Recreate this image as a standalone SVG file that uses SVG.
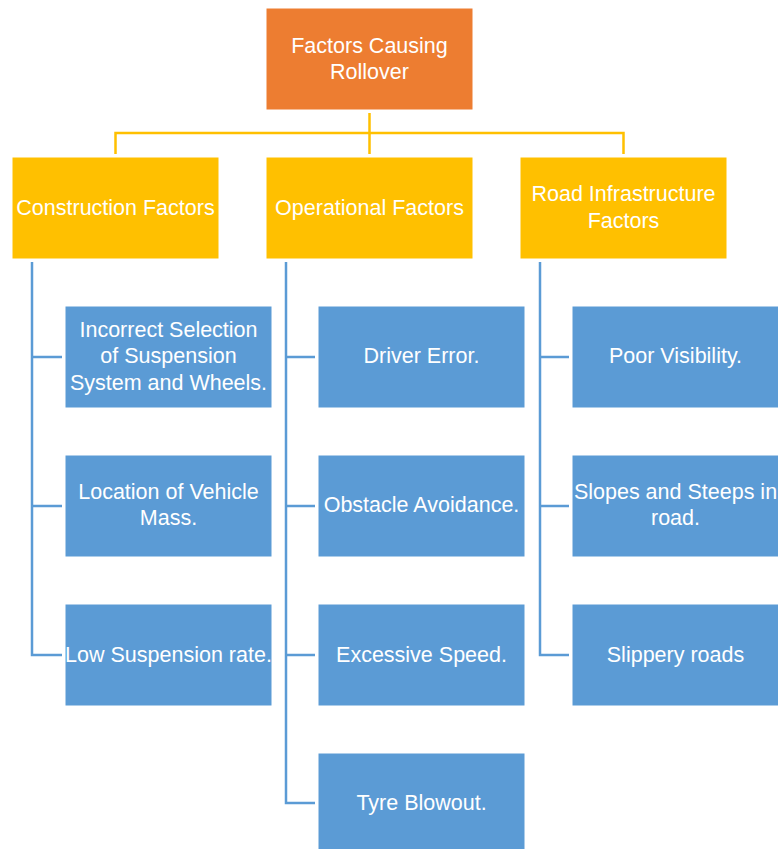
<svg xmlns="http://www.w3.org/2000/svg" width="778" height="849" viewBox="0 0 778 849">
<style>
.root{fill:#ED7D31;stroke:#fff;stroke-width:1}
.mid{fill:#FFC000;stroke:#fff;stroke-width:1}
.leaf{fill:#5B9BD5;stroke:#fff;stroke-width:1}
text{font-family:"Liberation Sans",Arial,sans-serif;font-size:21.5px;fill:#fff;text-anchor:middle}
.cy{fill:none;stroke:#FFC000;stroke-width:2.5}
.cb{fill:none;stroke:#5B9BD5;stroke-width:2.5}
</style>
<rect width="778" height="849" fill="#fff"/>
<g id="connectors">
<path class="cy" d="M369.5 113V154M115.5 154V133H623.5V154"/>
<path class="cb" d="M32 262V655H62M32 357H62M32 506H62"/>
<path class="cb" d="M286 262V803H315M286 357H315M286 506H315M286 655H315"/>
<path class="cb" d="M540 262V655H569M540 357H569M540 506H569"/>
</g>
<g id="root"><rect class="root" x="266" y="8" width="207" height="102"/><text x="369.5" y="53">Factors Causing</text><text x="369.5" y="79">Rollover</text></g>
<g id="construction"><rect class="mid" x="12" y="157" width="207" height="102"/><text x="115.5" y="215">Construction Factors</text></g>
<g id="operational"><rect class="mid" x="266" y="157" width="207" height="102"/><text x="369.5" y="215">Operational Factors</text></g>
<g id="road"><rect class="mid" x="520" y="157" width="207" height="102"/><text x="623.5" y="201">Road Infrastructure</text><text x="623.5" y="228">Factors</text></g>
<g id="c1"><rect class="leaf" x="65" y="306" width="207" height="102"/><text x="168.5" y="337">Incorrect Selection</text><text x="168.5" y="363">of Suspension</text><text x="168.5" y="390">System and Wheels.</text></g>
<g id="c2"><rect class="leaf" x="65" y="455" width="207" height="102"/><text x="168.5" y="499">Location of Vehicle</text><text x="168.5" y="525">Mass.</text></g>
<g id="c3"><rect class="leaf" x="65" y="604" width="207" height="102"/><text x="168.5" y="662">Low Suspension rate.</text></g>
<g id="o1"><rect class="leaf" x="318" y="306" width="207" height="102"/><text x="421.5" y="363">Driver Error.</text></g>
<g id="o2"><rect class="leaf" x="318" y="455" width="207" height="102"/><text x="421.5" y="512">Obstacle Avoidance.</text></g>
<g id="o3"><rect class="leaf" x="318" y="604" width="207" height="102"/><text x="421.5" y="662">Excessive Speed.</text></g>
<g id="o4"><rect class="leaf" x="318" y="753" width="207" height="102"/><text x="421.5" y="810">Tyre Blowout.</text></g>
<g id="r1"><rect class="leaf" x="572" y="306" width="207" height="102"/><text x="675.5" y="363">Poor Visibility.</text></g>
<g id="r2"><rect class="leaf" x="572" y="455" width="207" height="102"/><text x="675.5" y="499">Slopes and Steeps in</text><text x="675.5" y="525">road.</text></g>
<g id="r3"><rect class="leaf" x="572" y="604" width="207" height="102"/><text x="675.5" y="662">Slippery roads</text></g>
</svg>
